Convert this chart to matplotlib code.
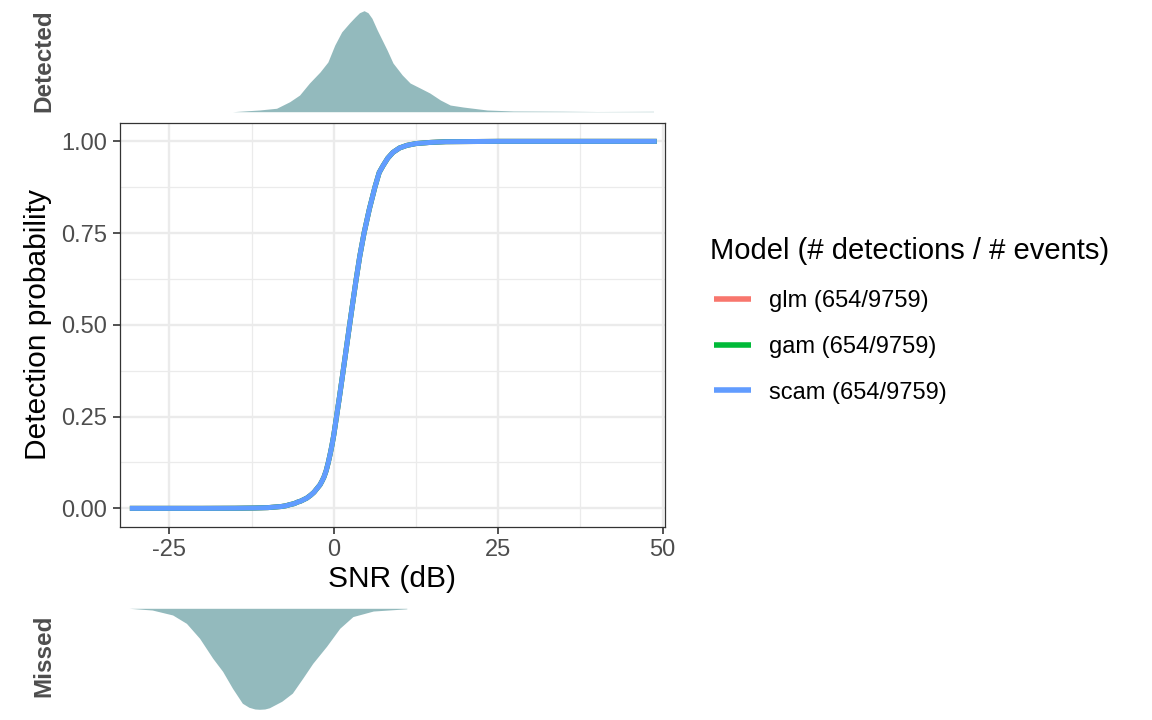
import matplotlib
matplotlib.use('Agg')

import numpy as np
import matplotlib.pyplot as plt
from matplotlib.ticker import MultipleLocator

plt.rcParams['font.family'] = ['Liberation Sans', 'DejaVu Sans']
plt.rcParams['axes.unicode_minus'] = False

#========================================================
# data
snr = [-31.0, -20.0, -15.0, -12.0, -10.0, -8.0, -7.3, -6.7, -6.0, -5.5, -5.0,
       -4.1, -3.5, -3.0, -2.6, -2.1, -1.8, -1.5, -1.15, -0.85, -0.55, -0.3,
       0.0, 0.3, 0.85, 1.35, 1.85, 2.35, 2.85, 3.35, 3.95, 4.6, 5.4, 6.25,
       6.9, 7.5, 8.2, 9.0, 10.0, 11.1, 12.5, 14.6, 17.0, 25.0, 49.1]
p_detect = [0.0, 0.0, 0.0003, 0.001, 0.002, 0.005, 0.007, 0.010, 0.013, 0.017,
            0.020, 0.028, 0.036, 0.044, 0.053, 0.064, 0.074, 0.085, 0.103,
            0.124, 0.148, 0.17, 0.2, 0.236, 0.302, 0.365, 0.429, 0.493, 0.556,
            0.618, 0.687, 0.75, 0.815, 0.875, 0.915, 0.934, 0.954, 0.970,
            0.982, 0.989, 0.994, 0.997, 0.999, 1.0, 1.0]
models = ['glm', 'gam', 'scam']
n_detections = [654, 654, 654]
n_events = [9759, 9759, 9759]
model_colors = ['#F8766D', '#00BA38', '#619CFF']

# density of SNR for detected events (relative height)
det_snr = [-15.4, -11.3, -8.7, -6.7, -5.2, -3.7, -2.1, -0.9, 0.15, 1.2, 2.4,
           3.2, 3.9, 4.6, 5.2, 5.8, 6.6, 8.1, 9.0, 10.4, 11.6, 13.1, 14.6,
           16.2, 17.7, 19.7, 23.3, 27.3, 34.5, 40.0, 48.6]
det_dens = [0.0, 0.017, 0.034, 0.099, 0.165, 0.284, 0.393, 0.492, 0.66, 0.79,
            0.88, 0.935, 0.98, 1.0, 0.98, 0.925, 0.809, 0.611, 0.482, 0.364,
            0.284, 0.235, 0.185, 0.116, 0.066, 0.046, 0.017, 0.007, 0.005,
            0.002, 0.004]

# density of SNR for missed events (relative height)
miss_snr = [-31.1, -27.6, -24.5, -22.4, -20.4, -18.4, -16.9, -15.4, -13.9,
            -12.9, -12.0, -11.3, -10.5, -9.8, -7.9, -6.3, -4.7, -3.2, -1.1,
            0.9, 2.9, 6.0, 11.1]
miss_dens = [0.0, 0.017, 0.066, 0.149, 0.297, 0.495, 0.624, 0.792, 0.94,
             0.98, 0.997, 1.0, 0.997, 0.985, 0.92, 0.84, 0.69, 0.545, 0.376,
             0.198, 0.082, 0.027, 0.005]
#========================================================

W, H = 1152, 720
fig = plt.figure(figsize=(W / 100, H / 100), dpi=100)

xlim = (-32.5, 50.35)
px_l, px_r = 120, 665
ax = fig.add_axes([px_l / W, 1 - 526.7 / H, (px_r - px_l) / W, (526.7 - 123) / H])
ax_top = fig.add_axes([px_l / W, 1 - 111.7 / H, (px_r - px_l) / W, 111.7 / H])
ax_bot = fig.add_axes([px_l / W, 1 - 720 / H, (px_r - px_l) / W, 111.7 / H])

fill_col = '#93BABD'

# marginal densities
ax_top.fill_between(det_snr, 0, det_dens, color=fill_col, linewidth=0)
ax_top.set_xlim(xlim)
ax_top.set_ylim(0, 1.106)
ax_top.axis('off')

ax_bot.fill_between(miss_snr, 0, miss_dens, color=fill_col, linewidth=0)
ax_bot.set_xlim(xlim)
ax_bot.set_ylim(1.106, 0)
ax_bot.axis('off')

fig.text(44 / W, 1 - 61 / H, 'Detected', rotation=90, ha='center', va='center',
         fontsize=17.5, fontweight='bold', color='#4D4D4D')
fig.text(44 / W, 1 - 656 / H, 'Missed', rotation=90, ha='center', va='center',
         fontsize=17.5, fontweight='bold', color='#4D4D4D')

# main panel
for m, c, nd, ne in zip(models, model_colors, n_detections, n_events):
    ax.plot(snr, p_detect, color=c, linewidth=3.6, solid_capstyle='butt',
            solid_joinstyle='round', label='%s (%d/%d)' % (m, nd, ne))

ax.set_xlim(xlim)
ax.set_ylim(-0.05, 1.05)
ax.set_xticks([-25, 0, 25, 50])
ax.set_yticks([0, 0.25, 0.5, 0.75, 1.0])
ax.set_yticklabels(['0.00', '0.25', '0.50', '0.75', '1.00'])
ax.xaxis.set_minor_locator(MultipleLocator(12.5))
ax.yaxis.set_minor_locator(MultipleLocator(0.125))
ax.grid(which='major', color='#EBEBEB', linewidth=1.7)
ax.grid(which='minor', color='#EBEBEB', linewidth=0.9)
ax.set_axisbelow(True)
ax.tick_params(which='major', length=5, width=1.2, color='#333333',
               labelsize=17, labelcolor='#4D4D4D', pad=4)
ax.tick_params(which='minor', length=0)
for s in ax.spines.values():
    s.set_color('#333333')
    s.set_linewidth(0.9)

ax.set_xlabel('SNR (dB)', fontsize=21.5, labelpad=3)
ax.set_ylabel('Detection probability', fontsize=21.5, labelpad=7)

# legend: title drawn as its own text, entries by the legend
fig.text(710 / W, 1 - 251 / H, 'Model (# detections / # events)', ha='left',
         va='center', fontsize=21)
leg = ax.legend(loc='upper left',
                bbox_to_anchor=(714 / W, 1 - 290 / H), bbox_transform=fig.transFigure,
                frameon=False, fontsize=17,
                handlelength=1.55, handletextpad=0.8, labelspacing=1.01,
                borderpad=0, borderaxespad=0)
for line in leg.get_lines():
    line.set_linewidth(4.0)

fig.savefig('out.png', dpi=100)
